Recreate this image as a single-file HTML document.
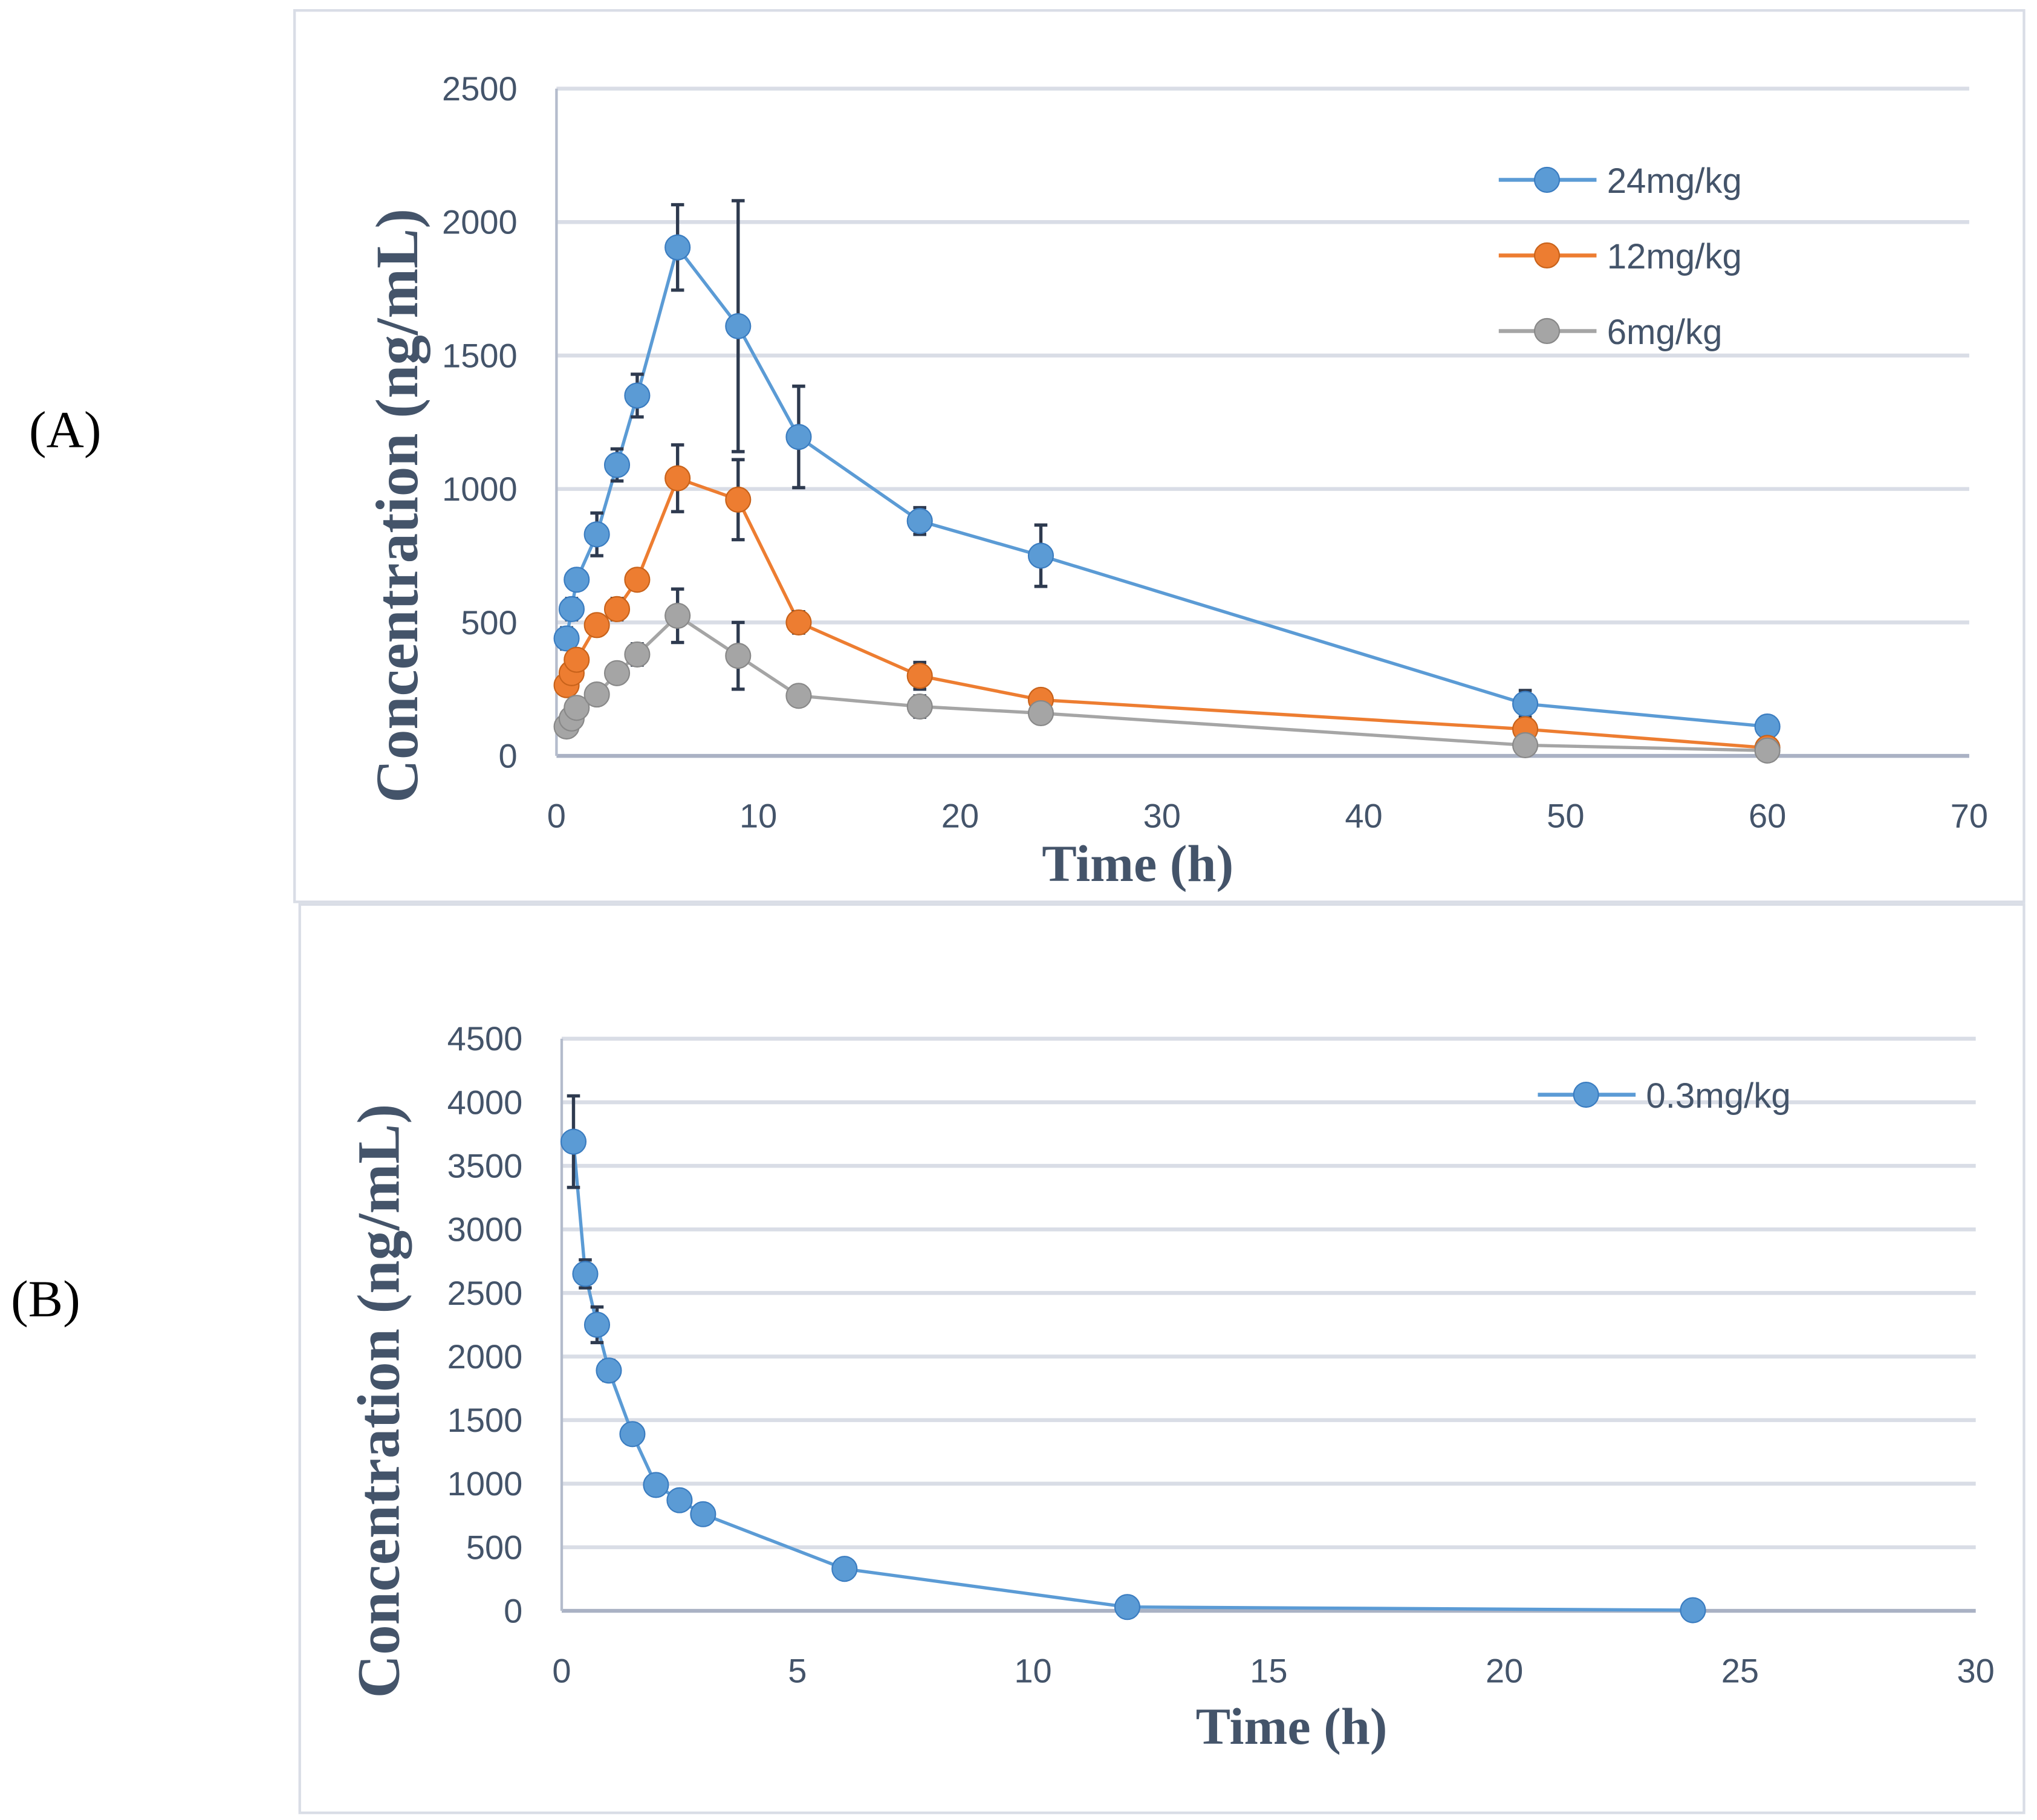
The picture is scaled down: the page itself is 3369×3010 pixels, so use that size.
<!DOCTYPE html>
<html><head><meta charset="utf-8"><style>
html,body{margin:0;padding:0;background:#fff;}
svg{display:block;}
text{font-family:"Liberation Sans",sans-serif;}
</style></head><body>
<svg id="chart" width="3369" height="3010" viewBox="0 0 1563 1396.5" preserveAspectRatio="none" xmlns="http://www.w3.org/2000/svg">
<g id="root"></g>
</svg>
<script>
const timesA = [0.5,0.75,1,2,3,4,6,9,12,18,24,48,60];
const dose24 = [440,550,660,830,1090,1350,1905,1610,1195,880,750,195,110];
const err24 = [40,40,30,80,60,80,160,470,190,50,115,50,20];
const dose12 = [265,310,360,490,550,660,1040,960,500,300,210,100,30];
const err12 = [20,20,20,30,40,30,125,150,40,50,20,20,10];
const dose6 = [110,140,180,230,310,380,525,375,225,185,160,40,20];
const err6 = [15,15,20,20,20,40,100,125,30,40,20,15,10];
const xTicksA = [0,10,20,30,40,50,60,70];
const yTicksA = [0,500,1000,1500,2000,2500];
const timesB = [0.25,0.5,0.75,1,1.5,2,2.5,3,6,12,24];
const doseB = [3690,2650,2250,1890,1390,990,870,760,330,30,5];
const errB = [360,110,140,80,60,30,20,20,10,5,5];
const xTicksB = [0,5,10,15,20,25,30];
const yTicksB = [0,500,1000,1500,2000,2500,3000,3500,4000,4500];

const NS="http://www.w3.org/2000/svg";
const root=document.getElementById('root');
function mk(tag,attrs,parent,txt){const e=document.createElementNS(NS,tag);for(const k in attrs)e.setAttribute(k,attrs[k]);if(txt!==undefined)e.textContent=txt;(parent||root).appendChild(e);return e;}

function panel(cfg){
  const g=mk('g',{});
  
  
  const fr=mk('rect',{x:cfg.frame[0],y:cfg.frame[1],width:cfg.frame[2],height:cfg.frame[3],fill:'none',stroke:'#d9dde6','stroke-width':2},g);
  
  
  const X=v=>cfg.x0+(v-cfg.xmin)/(cfg.xmax-cfg.xmin)*(cfg.x1-cfg.x0);
  const Y=v=>cfg.y0-(v-0)/(cfg.ymax)*(cfg.y0-cfg.y1);
  cfg.yTicks.forEach(t=>{
    const l=mk('line',{x1:cfg.x0,x2:cfg.x1,y1:Y(t),y2:Y(t),stroke:t===0?'#aab2c4':'#d9dde6','stroke-width':3},g);
    
    
    const tx=mk('text',{x:cfg.x0-30,y:Y(t)+9,'text-anchor':'end','font-size':26,fill:'#44546a'},g,String(t));
    
    
  });
  const ax=mk('line',{x1:cfg.x0,x2:cfg.x0,y1:cfg.y1,y2:cfg.y0,stroke:'#b4bccc','stroke-width':2},g);
  
  
  cfg.xTicks.forEach(t=>{
    const tx=mk('text',{x:X(t),y:cfg.y0+55,'text-anchor':'middle','font-size':26,fill:'#44546a'},g,String(t));
    
    
  });
  const xt=mk('text',{x:cfg.xTitle[0],y:cfg.xTitle[1],'text-anchor':'middle','font-size':40,'font-weight':'bold',fill:'#44546a',style:'font-family:"Liberation Serif",serif'},g,'Time (h)');
  
  
  const yt=mk('text',{x:0,y:0,'text-anchor':'middle','font-size':46,'font-weight':'bold',fill:'#44546a',style:'font-family:"Liberation Serif",serif',transform:`translate(${cfg.yTitle[0]},${cfg.yTitle[1]}) rotate(-90)`},g,'Concentration (ng/mL)');
  
  
  cfg.series.forEach((s,si)=>{
    const sg=mk('g',{},g);
    
    
    const pts=s.t.map((t,i)=>X(t)+','+Y(s.v[i])).join(' ');
    const pl=mk('polyline',{points:pts,fill:'none',stroke:s.color,'stroke-width':2.5},sg);
    
    
    s.t.forEach((t,i)=>{
      const cx=X(t),e=s.e[i];
      const eb=mk('path',{d:`M${cx},${Y(s.v[i]+e)}V${Y(s.v[i]-e)}M${cx-5},${Y(s.v[i]+e)}h10M${cx-5},${Y(s.v[i]-e)}h10`,stroke:'#2e3a4f','stroke-width':2.5,fill:'none'},sg);
      
      
    });
    s.t.forEach((t,i)=>{
      const c=mk('circle',{cx:X(t),cy:Y(s.v[i]),r:9.5,fill:s.color,stroke:s.dark,'stroke-width':1},sg);
      
      
    });
    const ly=cfg.legend[1]+si*58;
    const lg=mk('g',{},g);
    
    
    mk('line',{x1:cfg.legend[0],x2:cfg.legend[0]+75,y1:ly,y2:ly,stroke:s.color,'stroke-width':3},lg);
    mk('circle',{cx:cfg.legend[0]+37,cy:ly,r:9.5,fill:s.color,stroke:s.dark,'stroke-width':1},lg);
    mk('text',{x:cfg.legend[0]+83,y:ly+10,'font-size':27,fill:'#44546a'},lg,s.label);
  });
}

panel({name:'panel-a',frame:[226,8,1327,684],x0:427,x1:1511,xmin:0,xmax:70,y0:580,y1:68,ymax:2500,
  xTicks:xTicksA,yTicks:yTicksA,xTitle:[873,676],yTitle:[320,388],legend:[1150,138],
  series:[
    {label:'24mg/kg',t:timesA,v:dose24,e:err24,color:'#5b9bd5',dark:'#3a7cc0'},
    {label:'12mg/kg',t:timesA,v:dose12,e:err12,color:'#ed7d31',dark:'#c8621a'},
    {label:'6mg/kg',t:timesA,v:dose6,e:err6,color:'#a5a5a5',dark:'#888'}]});
panel({name:'panel-b',frame:[230,694,1323,697],x0:431,x1:1516,xmin:0,xmax:30,y0:1236,y1:797,ymax:4500,
  xTicks:xTicksB,yTicks:yTicksB,xTitle:[991,1338],yTitle:[306,1075],legend:[1180,840],
  series:[{label:'0.3mg/kg',t:timesB,v:doseB,e:errB,color:'#5b9bd5',dark:'#3a7cc0'}]});

const la=mk('text',{x:50,y:343,'text-anchor':'middle','font-size':40,fill:'#000',style:'font-family:"Liberation Serif",serif'},root,'(A)');


const lb=mk('text',{x:35,y:1010,'text-anchor':'middle','font-size':40,fill:'#000',style:'font-family:"Liberation Serif",serif'},root,'(B)');


</script>
</body></html>
